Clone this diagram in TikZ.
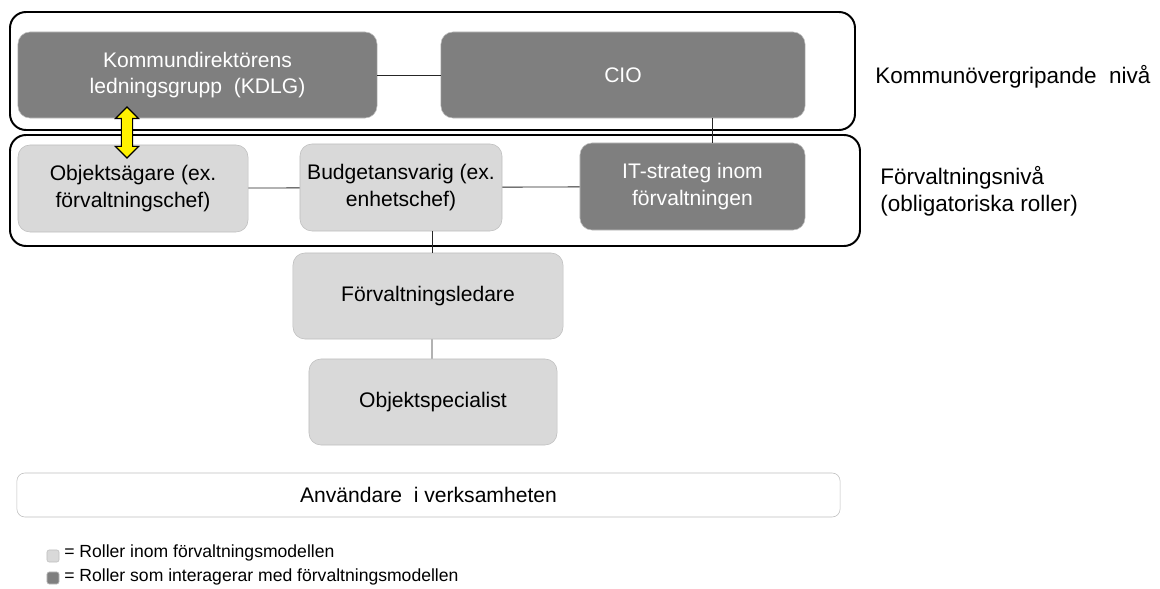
\documentclass[tikz,border=0pt]{standalone}
\usepackage{fontspec}
\setmainfont{Liberation Sans}
\usepackage{xcolor}
\usepackage{tikz}
\usetikzlibrary{shapes.arrows, arrows.meta, positioning, calc}
\definecolor{morkgra}{HTML}{7F7F7F}
\definecolor{ljusgra}{HTML}{D9D9D9}
\definecolor{kantgra}{HTML}{BFBFBF}
\tikzset{
    mork/.style   = {draw=kantgra, fill=morkgra, rounded corners=0.3cm, text=white,
                     font=\fontsize{15}{18.6}\selectfont, align=center, inner sep=2pt},
    ljus/.style   = {draw=kantgra, fill=ljusgra, rounded corners=0.3cm,
                     font=\fontsize{15}{18.6}\selectfont, align=center, inner sep=2pt},
    niva/.style   = {draw=black, line width=1.4pt, rounded corners=0.4cm},
    lank/.style   = {draw=black!85, line width=0.6pt},
    etikett/.style = {anchor=west, font=\fontsize{16}{19.5}\selectfont, align=left, inner sep=0pt},
    ruta/.style   = {draw=kantgra, rounded corners=1.5pt, minimum size=0.3cm, inner sep=0pt},
}
\begin{document}
\begin{tikzpicture}[x=0.025cm, y=-0.025cm]
        \useasboundingbox (0,0) rectangle (1160,589);
        % nivåer
        \draw[niva] (10,12) rectangle (855,130);
        \draw[niva] (10,135) rectangle (860,246);
        \node[etikett] (kniva) at (875,77) {Kommunövergripande\ \ nivå};
        \node[etikett] (fniva) at (880,191) {Förvaltningsnivå\\(obligatoriska roller)};
        % kommunövergripande
        \node[mork, minimum width=8.975cm, minimum height=2.15cm] (kdlg) at (197.5,75) {Kommundirektörens\\ledningsgrupp\ \ (KDLG)};
        \node[mork, minimum width=9.1cm, minimum height=2.15cm] (cio) at (623,75) {CIO};
        \draw[lank] (kdlg) -- (cio);
        % förvaltning
        \node[ljus, minimum width=5.75cm, minimum height=2.175cm] (agare) at (133,188.5) {Objektsägare\ (ex.\\förvaltningschef)};
        \node[ljus, minimum width=5.05cm, minimum height=2.175cm] (budget) at (401,187.5) {Budgetansvarig\ (ex.\\enhetschef)};
        \node[mork, minimum width=5.625cm, minimum height=2.175cm] (strateg) at (692.5,186.5) {IT-strateg inom\\förvaltningen};
        \draw[lank] (agare) -- (budget);
        \draw[lank] (budget) -- (strateg);
        \draw[lank] ([xshift=2.225cm]cio.south) -- ([xshift=2.225cm]cio.south |- strateg.north);
        \node[double arrow, rotate=90, draw=black, fill=yellow, line width=0.8pt,
              minimum height=1.275cm, inner xsep=0pt, inner ysep=0.125cm,
              double arrow head extend=0.15cm] (pil) at (127,132.5) {};
        % roller under
        \node[ljus, minimum width=6.75cm, minimum height=2.15cm] (ledare) at (428,296) {Förvaltningsledare};
        \node[ljus, minimum width=6.2cm, minimum height=2.15cm] (spec) at (433,402) {Objektspecialist};
        \draw[lank] ([xshift=0.775cm]budget.south) -- ([xshift=0.775cm]budget.south |- ledare.north);
        \draw[lank] ([xshift=0.1cm]ledare.south) -- ([xshift=-0.025cm]spec.north);
        \node[ljus, fill=white, rounded corners=0.2cm, minimum width=20.575cm, minimum height=1.1cm] (anv) at (428.5,495) {Användare\ \ i verksamheten};
        % förklaring
        \node[ruta, fill=ljusgra] (rljus) at (53,556) {};
        \node[ruta, fill=morkgra] (rmork) at (53,578) {};
        \node[anchor=west, inner sep=0pt, font=\fontsize{12.5}{15}\selectfont] (tljus) at (64,553) {= Roller inom förvaltningsmodellen};
        \node[anchor=west, inner sep=0pt, font=\fontsize{12.5}{15}\selectfont] (tmork) at (64,577) {= Roller som interagerar med förvaltningsmodellen};
    \end{tikzpicture}
\end{document}
